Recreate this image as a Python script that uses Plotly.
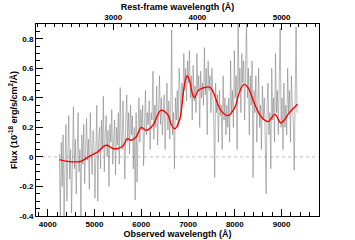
import numpy as np
import plotly.graph_objects as go

# Redshift used for the rest-frame axis
Z = 0.8

# Observed spectrum (gray): wavelength grid start/step and flux values (1e-18 erg/s/cm^2/A)
spec_start = 4250
spec_step = 20
spec_flux = [
    0.02, -0.42, 0.10, -0.20, 0.15, -0.42, -0.05, 0.22, -0.30, 0.08, 0.28, -0.15, 0.05, -0.38, 0.18, 0.34, -0.08, 0.12, -0.25, 0.20,
    0.30, -0.10, 0.05, -0.40, 0.15, -0.05, 0.22, -0.18, 0.10, 0.26, -0.02, 0.12, -0.22, 0.30, 0.05, -0.12, 0.18, 0.08, -0.28, 0.15,
    0.35, -0.30, 0.12, 0.20, -0.08, 0.25, 0.05, 0.41, -0.10, 0.15, 0.28, 0.00, 0.18, -0.20, 0.22, 0.10, 0.32, -0.05, 0.15, 0.25,
    -0.12, 0.20, 0.08, 0.30, -0.05, 0.47, 0.12, 0.05, 0.38, 0.18, -0.15, 0.25, 0.42, 0.10, 0.30, 0.02, 0.35, 0.15, 0.28, -0.08,
    0.20, -0.29, 0.30, -0.17, 0.25, 0.40, 0.10, 0.32, 0.18, 0.35, -0.06, 0.28, 0.45, 0.15, 0.30, 0.22, 0.38, 0.05, 0.30, 0.25,
    0.58, 0.12, 0.35, 0.20, 0.48, 0.08, 0.30, 0.55, 0.22, 0.40, 0.15, 0.35, 0.42, 0.05, 0.30, 0.50, 0.18, 0.38, 0.12, 0.30,
    0.86, 0.15, 0.30, -0.08, 0.40, 0.25, 0.45, 0.20, 0.60, 0.35, 0.28, 0.50, 0.40, 0.70, 0.45, 0.60, 0.38, 0.65, 0.50, 0.72,
    0.40, 0.55, 0.25, 0.62, 0.38, 0.48, 0.30, 0.70, 0.45, 0.55, 0.20, 0.58, 0.40, 0.50, 0.35, 0.74, 0.42, 0.60, 0.15, 0.65,
    0.45, 0.55, 0.30, 0.60, 0.40, 0.25, -0.14, 0.50, 0.30, 0.42, 0.10, 0.45, 0.28, 0.35, 0.05, 0.55, 0.25, 0.40, 0.15, 0.35,
    0.20, 0.40, 0.10, 0.65, 0.30, 0.45, 0.20, 0.72, 0.40, 0.55, 0.05, 0.90, 0.45, 0.60, 0.30, 0.70, 0.50, 0.65, 0.25, 0.55,
    0.92, 0.40, 0.60, 0.15, 0.55, 0.35, 0.65, -0.14, 0.45, 0.30, 0.55, 0.10, 0.40, 0.60, 0.20, 0.35, 0.05, 0.48, 0.25, 0.40,
    0.12, -0.25, 0.35, 0.50, 0.15, 0.30, -0.08, 0.60, 0.25, 0.40, 0.10, 0.70, 0.30, 0.45, 0.15, 0.55, 0.87, 0.20, 0.40, 0.05,
    0.50, 0.20, 0.35, 0.15, 0.60, 0.30, 0.45, 0.10, 0.55, 0.35, 0.25, -0.09, 0.40, 0.88, 0.30,
]
spec_wave = spec_start + spec_step * np.arange(len(spec_flux))

# Smooth model (red)
model_wave = [4250, 4430, 4700, 4790, 4930, 5070, 5210, 5270, 5390, 5500, 5610, 5700,
              5785, 5890, 6000, 6105, 6250, 6420, 6570, 6640, 6715, 6820, 6855, 6930,
              6980, 7030, 7100, 7141, 7200, 7250, 7460, 7530, 7620, 7712, 7855, 7998,
              8100, 8195, 8283, 8426, 8569, 8711, 8854, 8983, 9060, 9139, 9340]
model_flux = [-0.018, -0.03, -0.031, -0.016, 0.011, 0.034, 0.074, 0.079, 0.057, 0.057, 0.074, 0.124,
              0.113, 0.135, 0.200, 0.180, 0.214, 0.315, 0.285, 0.22, 0.19, 0.25, 0.31, 0.50,
              0.55, 0.52, 0.42, 0.40, 0.44, 0.457, 0.473, 0.446, 0.37, 0.31, 0.28, 0.334,
              0.44, 0.491, 0.469, 0.356, 0.27, 0.239, 0.288, 0.23, 0.25, 0.288, 0.356]

# Axes
obs_range = [3750, 9800]
y_range = [-0.4, 0.9]
obs_ticks = [4000, 5000, 6000, 7000, 8000, 9000]
rest_ticks = [3000, 4000, 5000]
y_ticks = [-0.4, -0.2, 0, 0.2, 0.4, 0.6, 0.8]
y_ticktext = ['-0.4', '-0.2', '0', '0.2', '0.4', '0.6', '0.8']

FONT = "Liberation Sans"
tickfont = dict(family=FONT, size=8, color="black", weight="bold")
titlefont = dict(family=FONT, size=9, color="black", weight="bold")

fig = go.Figure()
fig.add_trace(go.Scatter(x=spec_wave, y=spec_flux, mode="lines",
                         line=dict(color="rgba(125,125,125,0.55)", width=1),
                         hoverinfo="skip", showlegend=False))
fig.add_trace(go.Scatter(x=model_wave, y=model_flux, mode="lines",
                         line=dict(color="#ff0000", width=1.4, shape="spline", smoothing=1.0),
                         hoverinfo="skip", showlegend=False))
fig.add_hline(y=0, line=dict(color="#bdbdbd", width=1, dash="dot"), layer="below")

fig.update_layout(
    width=355, height=240,
    margin=dict(l=36, r=36, t=24, b=24),
    plot_bgcolor="white", paper_bgcolor="white",
    showlegend=False,
    xaxis=dict(range=obs_range, tickvals=obs_ticks, ticks="inside", ticklen=7,
               tickcolor="black", linecolor="black", linewidth=1, showline=True,
               mirror=False, showgrid=False, zeroline=False, tickfont=tickfont, automargin=False,
               minor=dict(dtick=200, tick0=0, ticks="inside", ticklen=4, tickcolor="black", showgrid=False),
               title=dict(text="Observed wavelength (Å)", font=titlefont, standoff=0)),
    xaxis2=dict(range=[obs_range[0] / (1 + Z), obs_range[1] / (1 + Z)], tickvals=rest_ticks,
                overlaying="x", side="top", anchor="y", ticks="inside", ticklen=6,
                tickcolor="black", linecolor="black", linewidth=1, showline=True,
                showgrid=False, zeroline=False, tickfont=tickfont, automargin=False,
                minor=dict(dtick=100, tick0=0, ticks="inside", ticklen=3, tickcolor="black", showgrid=False),
                title=dict(text="Rest-frame wavelength (Å)", font=titlefont, standoff=0)),
    yaxis=dict(range=y_range, tickvals=y_ticks, ticktext=y_ticktext, ticks="inside", ticklen=7,
               tickcolor="black", linecolor="black", linewidth=1, showline=True, mirror=True,
               showgrid=False, zeroline=False, tickfont=tickfont, automargin=False,
               minor=dict(dtick=0.05, tick0=0, ticks="inside", ticklen=4, tickcolor="black", showgrid=False),
               title=dict(text="Flux (10<sup>-18</sup> erg/s/cm<sup>2</sup>/Å)", font=titlefont, standoff=0)),
)
# empty trace binding the top (rest-frame) axis
fig.add_trace(go.Scatter(x=[], y=[], xaxis="x2", yaxis="y", showlegend=False))

fig.write_html("out.html", config={"displayModeBar": False},
               post_script="document.body.style.margin='0px';")
